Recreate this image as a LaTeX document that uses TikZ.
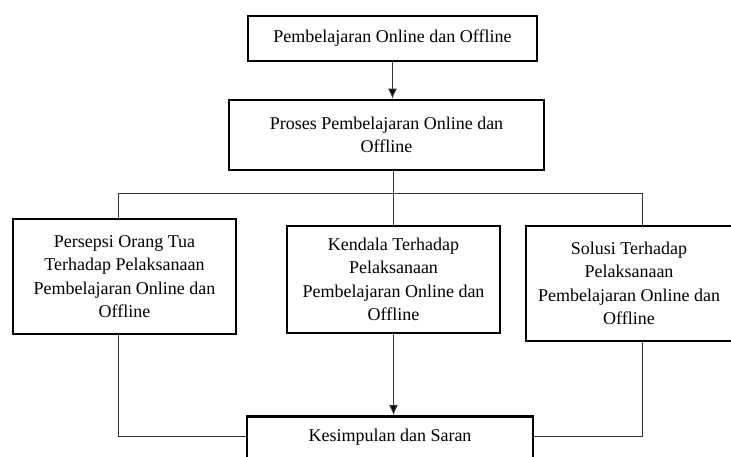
\documentclass[tikz,border=0pt]{standalone}
\usepackage{fontspec}
\setmainfont{Liberation Serif}
\usetikzlibrary{arrows.meta}
\begin{document}
\begin{tikzpicture}[x=1pt,y=-1pt,
  box/.style={draw=black, line width=2.8pt, align=center, inner sep=0pt,
    font=\fontsize{18}{23.5}\selectfont, text=black},
  conn/.style={draw=black!80, line width=1pt},
  arr/.style={conn, -{Latex[length=10pt,width=9pt,fill=black]}}]
\useasboundingbox (0,0) rectangle (731,456);
\clip (0,0) rectangle (731,456);
\fill[white] (0,0) rectangle (731,456);

\node[box, minimum width=289, minimum height=45] (top) at (392.5,38.5)
  {Pembelajaran Online dan Offline};
\node[box, minimum width=315, minimum height=70] (proc) at (386.5,135)
  {Proses Pembelajaran Online dan\\Offline};
\node[box, minimum width=223, minimum height=115] (pers) at (124.5,276.5)
  {Persepsi Orang Tua\\Terhadap Pelaksanaan\\Pembelajaran Online dan\\Offline};
\node[box, minimum width=213, minimum height=107] (kend) at (393.5,279.5)
  {Kendala Terhadap\\Pelaksanaan\\Pembelajaran Online dan\\Offline};
\node[box, minimum width=206, minimum height=115] (sol) at (629,283.5)
  {Solusi Terhadap\\Pelaksanaan\\Pembelajaran Online dan\\Offline};
\node[box, minimum width=286, anchor=north, text height=25pt, text depth=40pt] (kes) at (390,415)
  {Kesimpulan dan Saran};

\coordinate (pl) at (118,193);
\coordinate (pr) at (642,193);
\coordinate (bl) at (118,436);
\coordinate (br) at (642,436);

\draw[arr] (top.south -| 392.5,0) -- (proc.north -| 392.5,0);
\draw[conn] (kend.north) -- (kend.north |- proc.south);
\draw[conn] (pers.north -| pl) -- (pl) -- (pr) -- (sol.north -| pr);
\draw[conn] (pers.south -| bl) -- (bl) -- (bl -| kes.west);
\draw[conn] (sol.south -| br) -- (br) -- (br -| kes.east);
\draw[arr] (kend.south) -- (kend.south |- kes.north);
\end{tikzpicture}
\end{document}
